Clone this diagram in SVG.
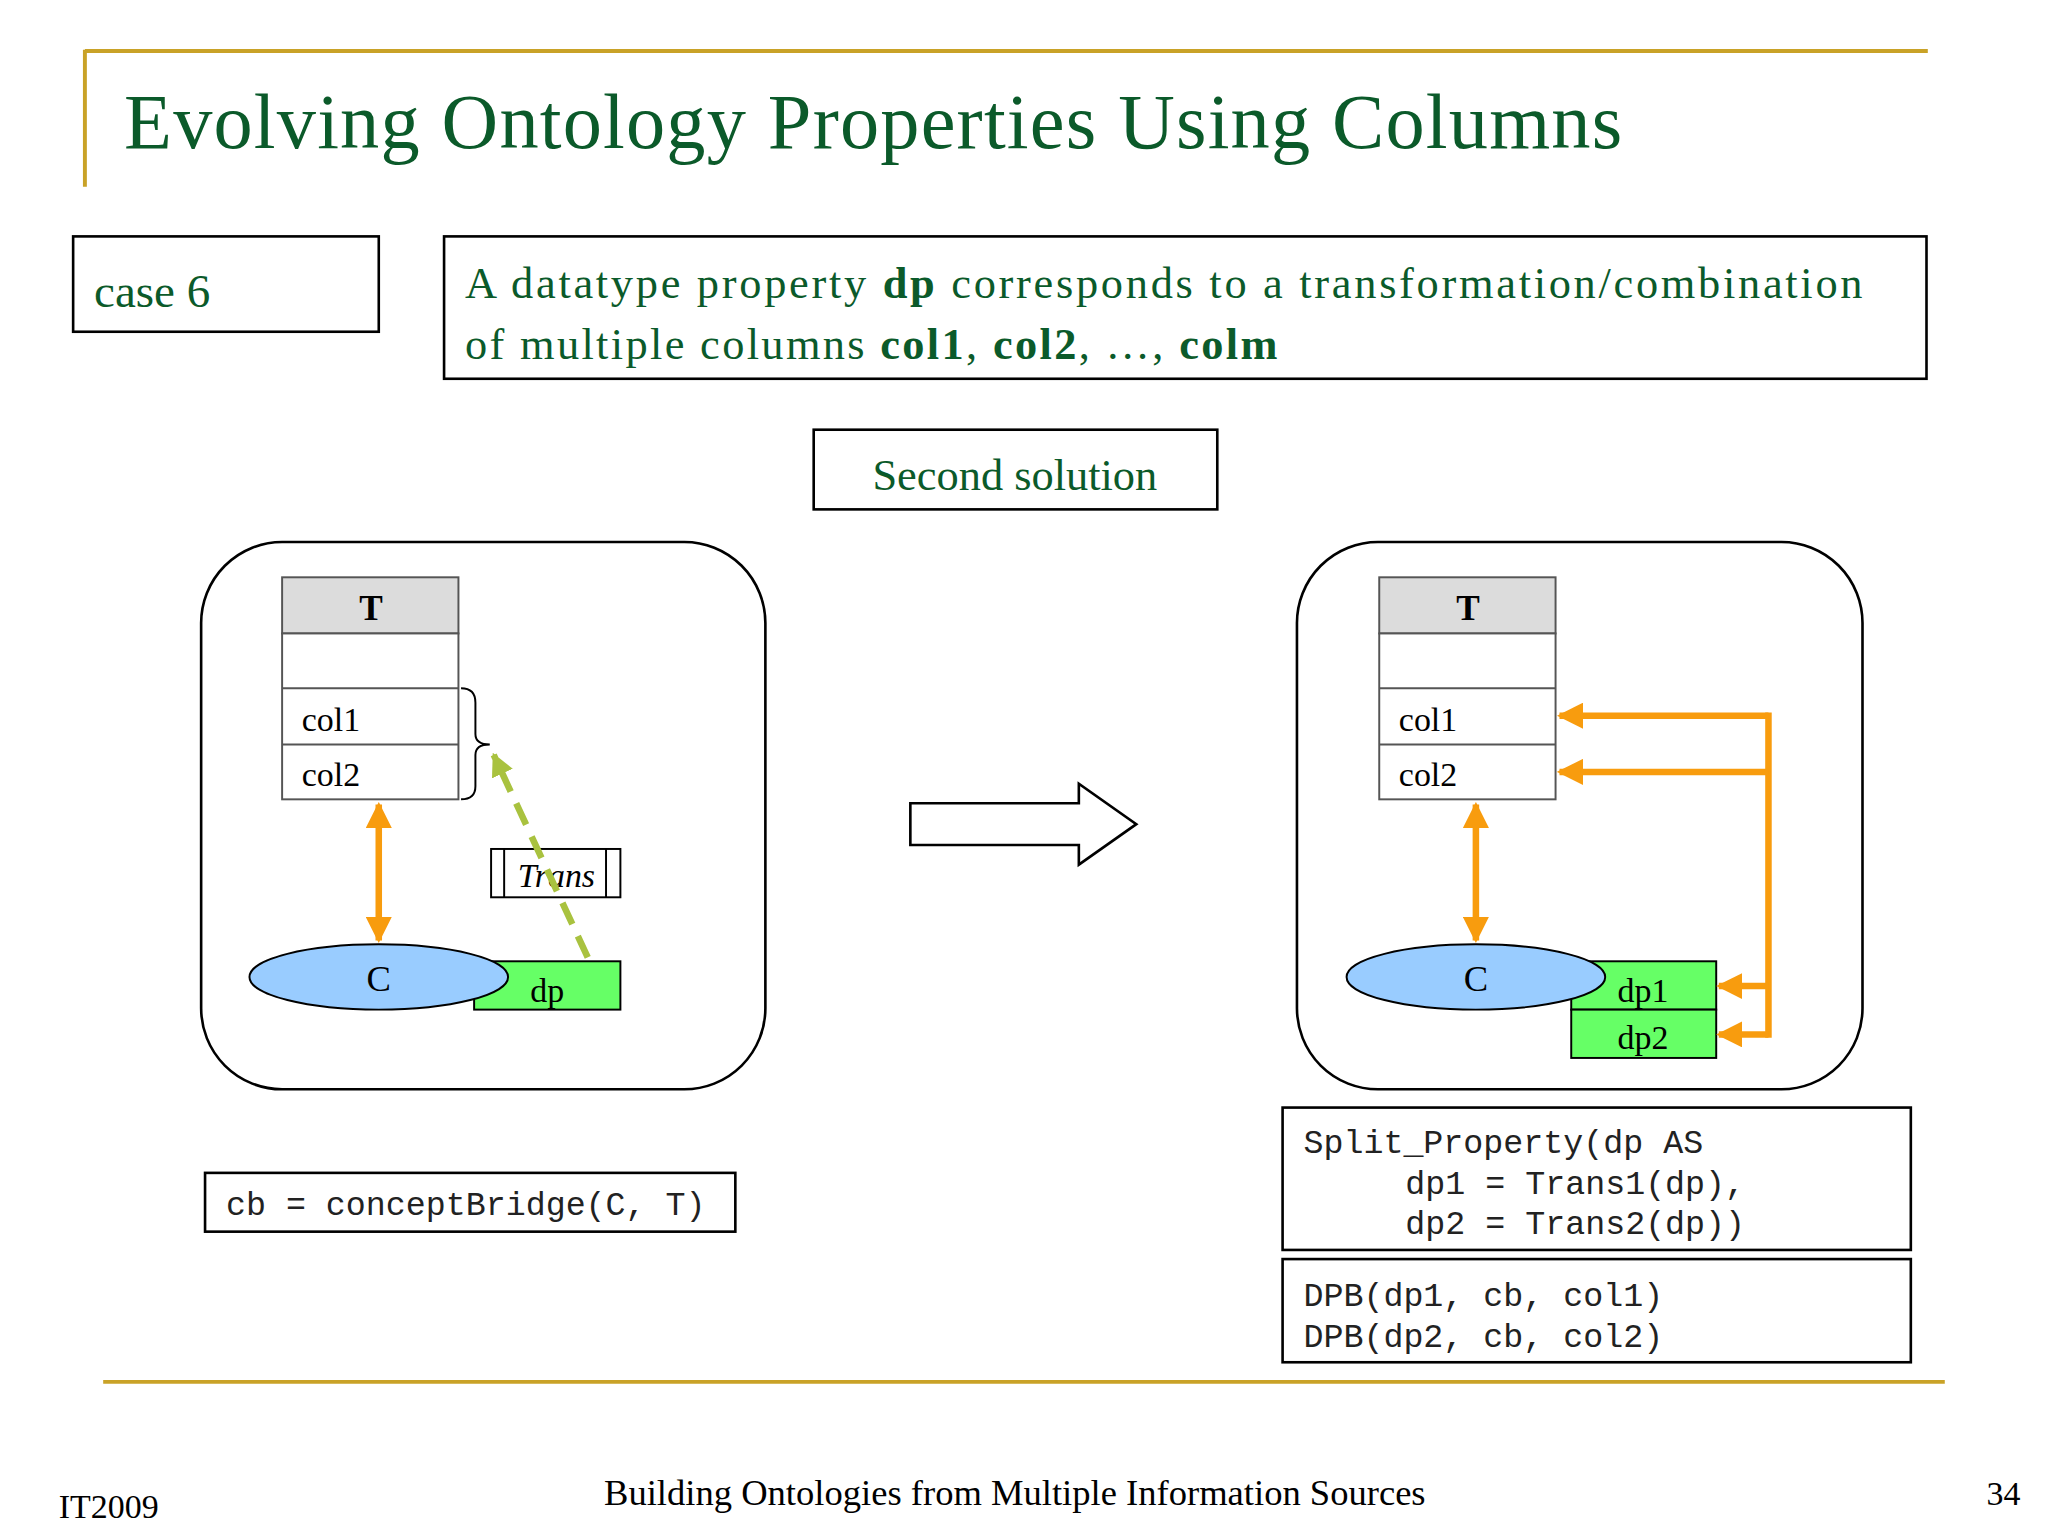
<svg xmlns="http://www.w3.org/2000/svg" width="2048" height="1536" viewBox="0 0 2048 1536">
<defs>
<style>
.s{font-family:"Liberation Serif",serif}
.g{fill:#0B5A2A}
.m{font-family:"Liberation Mono",monospace;font-size:25.5px;fill:#222}
.bx{fill:#fff;stroke:#000;stroke-width:2}
.or{stroke:#F89C0E;stroke-width:5;fill:none}
.gold{stroke:#C9A227;stroke-width:3}
</style>
<marker id="ao" viewBox="0 0 10 10" refX="9" refY="5" markerWidth="4" markerHeight="4" orient="auto-start-reverse"><path d="M0,0L10,5L0,10z" fill="#F89C0E"/></marker>
<marker id="ag" viewBox="0 0 10 10" refX="9" refY="5" markerWidth="3.5" markerHeight="3.5" orient="auto"><path d="M0,0L10,5L0,10z" fill="#A9C23F"/></marker>
</defs>
<rect width="2048" height="1536" fill="#fff"/>
<g transform="scale(1.3061)">
<g id="frame">
<path class="gold" d="M65,39H1476M65,38V143M79,1058H1489" fill="none"/>
<text class="s g" x="95" y="113" font-size="60" textLength="1147">Evolving Ontology Properties Using Columns</text>
</g>
<g id="case6"><rect class="bx" x="56" y="181" width="234" height="73"/>
<text class="s g" x="72" y="235" font-size="36">case 6</text></g>
<g id="desc"><rect class="bx" x="340" y="181" width="1135" height="109"/>
<text class="s g" x="356" y="228" font-size="34" textLength="1070">A datatype property <tspan font-weight="bold">dp</tspan> corresponds to a transformation/combination</text>
<text class="s g" x="356" y="275" font-size="34" textLength="622">of multiple columns <tspan font-weight="bold">col1</tspan>, <tspan font-weight="bold">col2</tspan>, …, <tspan font-weight="bold">colm</tspan></text></g>
<g id="second"><rect class="bx" x="623" y="329" width="309" height="61"/>
<text class="s g" x="777" y="375" font-size="34" text-anchor="middle">Second solution</text></g>

<g id="left">
<rect class="bx" x="154" y="415" width="432" height="419" rx="62"/>
<rect x="216" y="442" width="135" height="43" fill="#DCDCDC" stroke="#555" stroke-width="1.5"/>
<rect x="216" y="485" width="135" height="127" fill="#fff" stroke="#555" stroke-width="1.5"/>
<path d="M216,527H351M216,570H351" stroke="#555" stroke-width="1.5"/>
<text class="s" x="284" y="475" font-size="27" font-weight="bold" text-anchor="middle">T</text>
<text class="s" x="231" y="560" font-size="26">col1</text>
<text class="s" x="231" y="602" font-size="26">col2</text>
<path d="M353,527Q364,527 364,538V562Q364,570 375,570Q364,570 364,578V602Q364,612 353,612" fill="none" stroke="#000" stroke-width="1.5"/>
<rect x="363" y="736" width="112" height="37" fill="#66FF66" stroke="#000" stroke-width="1.5"/>
<ellipse cx="290" cy="748" rx="99" ry="25" fill="#99CCFF" stroke="#000" stroke-width="1.5"/>
<text class="s" x="290" y="759" font-size="28" text-anchor="middle">C</text>
<text class="s" x="419" y="767" font-size="26" text-anchor="middle">dp</text>
</g>
<g id="trans"><rect x="376" y="650" width="99" height="37" fill="#fff" stroke="#000" stroke-width="1.5"/>
<path d="M386,650V687M464,650V687" stroke="#000" stroke-width="1.5"/>
<text class="s" x="426" y="679" font-size="26" font-style="italic" text-anchor="middle">Trans</text></g>

<g id="blockarrow"><path d="M697,615H826V600L870,631L826,662V647H697Z" fill="#fff" stroke="#000" stroke-width="2"/></g>

<g id="right">
<rect class="bx" x="993" y="415" width="433" height="419" rx="62"/>
<rect x="1056" y="442" width="135" height="43" fill="#DCDCDC" stroke="#555" stroke-width="1.5"/>
<rect x="1056" y="485" width="135" height="127" fill="#fff" stroke="#555" stroke-width="1.5"/>
<path d="M1056,527H1191M1056,570H1191" stroke="#555" stroke-width="1.5"/>
<text class="s" x="1124" y="475" font-size="27" font-weight="bold" text-anchor="middle">T</text>
<text class="s" x="1071" y="560" font-size="26">col1</text>
<text class="s" x="1071" y="602" font-size="26">col2</text>
<rect x="1203" y="736" width="111" height="37" fill="#66FF66" stroke="#000" stroke-width="1.5"/>
<rect x="1203" y="773" width="111" height="37" fill="#66FF66" stroke="#000" stroke-width="1.5"/>
<ellipse cx="1130" cy="748" rx="99" ry="25" fill="#99CCFF" stroke="#000" stroke-width="1.5"/>
<text class="s" x="1130" y="759" font-size="28" text-anchor="middle">C</text>
<text class="s" x="1258" y="767" font-size="26" text-anchor="middle">dp1</text>
<text class="s" x="1258" y="803" font-size="26" text-anchor="middle">dp2</text>
</g>

<g id="connectors">
<path class="or" d="M290,616V720" marker-start="url(#ao)" marker-end="url(#ao)"/>
<path class="or" d="M1130,616V720" marker-start="url(#ao)" marker-end="url(#ao)"/>
<path d="M450,733L378,578" stroke="#A9C23F" stroke-width="5" stroke-dasharray="18,10" fill="none" marker-end="url(#ag)"/>
<path class="or" d="M1354,548V792" stroke-linecap="square"/>
<path class="or" d="M1354,548H1194" marker-end="url(#ao)"/>
<path class="or" d="M1354,591H1194" marker-end="url(#ao)"/>
<path class="or" d="M1354,755H1316" marker-end="url(#ao)"/>
<path class="or" d="M1354,792H1316" marker-end="url(#ao)"/>
</g>

<g id="cb"><rect class="bx" x="157" y="898" width="406" height="45"/>
<text class="m" x="173" y="930" xml:space="preserve">cb = conceptBridge(C, T)</text></g>
<g id="split"><rect class="bx" x="982" y="848" width="481" height="109"/>
<text class="m" x="998" y="883" xml:space="preserve">Split_Property(dp AS</text>
<text class="m" x="1076" y="914" xml:space="preserve">dp1 = Trans1(dp),</text>
<text class="m" x="1076" y="945" xml:space="preserve">dp2 = Trans2(dp))</text></g>
<g id="dpb"><rect class="bx" x="982" y="964" width="481" height="79"/>
<text class="m" x="998" y="1000" xml:space="preserve">DPB(dp1, cb, col1)</text>
<text class="m" x="998" y="1031" xml:space="preserve">DPB(dp2, cb, col2)</text></g>

<g id="footer">
<text class="s" x="45" y="1162" font-size="26">IT2009</text>
<text class="s" x="777" y="1152" font-size="28" text-anchor="middle">Building Ontologies from Multiple Information Sources</text>
<text class="s" x="1547" y="1152" font-size="26" text-anchor="end">34</text>
</g>
</g>
</svg>
